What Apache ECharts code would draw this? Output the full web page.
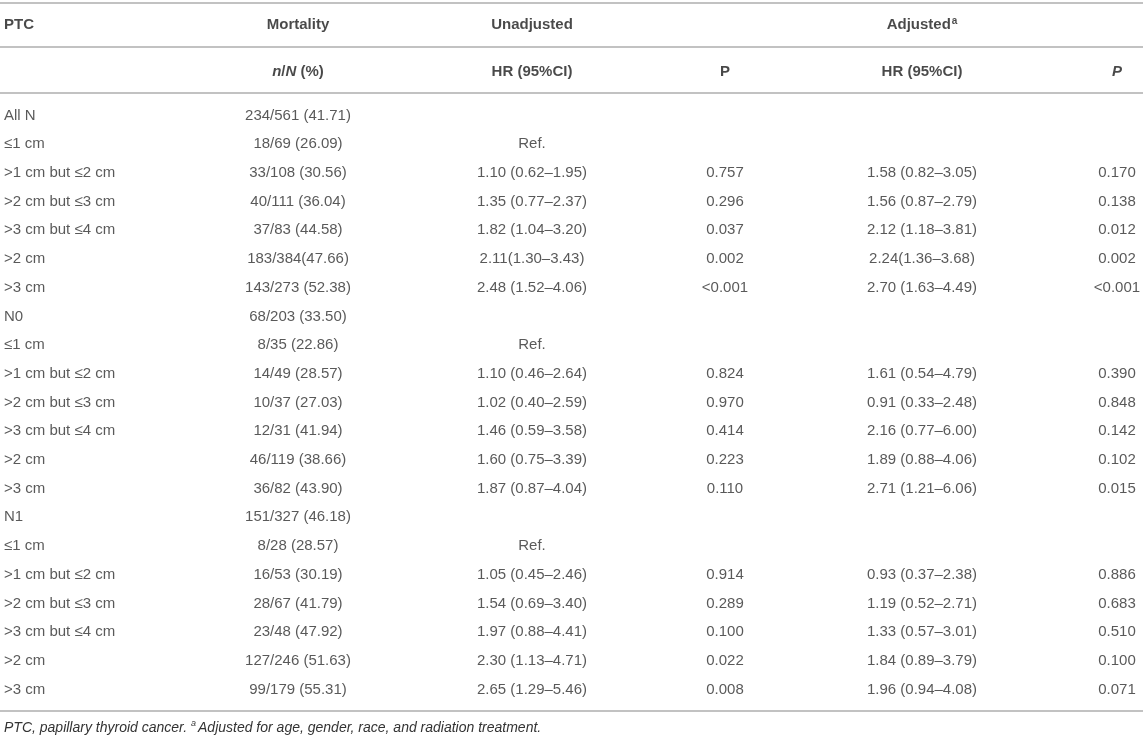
<!DOCTYPE html>
<html lang="en">
<head>
  <meta charset="UTF-8">
  <title>PTC mortality table</title>
  <script src="https://cdn.jsdelivr.net/npm/echarts@6/dist/echarts.min.js"></script>
  <style>
    html, body { margin: 0; padding: 0; width: 100%; height: 100%; background: #fff; }
    #main { width: 1143px; height: 739px; }
  </style>
</head>
<body>
  <div id="main"></div>
  <script>
    // table content
    const rowLabels = [
      'All N', '≤1 cm', '>1 cm but ≤2 cm', '>2 cm but ≤3 cm', '>3 cm but ≤4 cm', '>2 cm', '>3 cm',
      'N0', '≤1 cm', '>1 cm but ≤2 cm', '>2 cm but ≤3 cm', '>3 cm but ≤4 cm', '>2 cm', '>3 cm',
      'N1', '≤1 cm', '>1 cm but ≤2 cm', '>2 cm but ≤3 cm', '>3 cm but ≤4 cm', '>2 cm', '>3 cm'
    ]
    const mortality = [
      '234/561 (41.71)', '18/69 (26.09)', '33/108 (30.56)', '40/111 (36.04)', '37/83 (44.58)', '183/384(47.66)', '143/273 (52.38)',
      '68/203 (33.50)', '8/35 (22.86)', '14/49 (28.57)', '10/37 (27.03)', '12/31 (41.94)', '46/119 (38.66)', '36/82 (43.90)',
      '151/327 (46.18)', '8/28 (28.57)', '16/53 (30.19)', '28/67 (41.79)', '23/48 (47.92)', '127/246 (51.63)', '99/179 (55.31)'
    ]
    const unadjHR = [
      '', 'Ref.', '1.10 (0.62–1.95)', '1.35 (0.77–2.37)', '1.82 (1.04–3.20)', '2.11(1.30–3.43)', '2.48 (1.52–4.06)',
      '', 'Ref.', '1.10 (0.46–2.64)', '1.02 (0.40–2.59)', '1.46 (0.59–3.58)', '1.60 (0.75–3.39)', '1.87 (0.87–4.04)',
      '', 'Ref.', '1.05 (0.45–2.46)', '1.54 (0.69–3.40)', '1.97 (0.88–4.41)', '2.30 (1.13–4.71)', '2.65 (1.29–5.46)'
    ]
    const unadjP = [
      '', '', '0.757', '0.296', '0.037', '0.002', '<0.001',
      '', '', '0.824', '0.970', '0.414', '0.223', '0.110',
      '', '', '0.914', '0.289', '0.100', '0.022', '0.008'
    ]
    const adjHR = [
      '', '', '1.58 (0.82–3.05)', '1.56 (0.87–2.79)', '2.12 (1.18–3.81)', '2.24(1.36–3.68)', '2.70 (1.63–4.49)',
      '', '', '1.61 (0.54–4.79)', '0.91 (0.33–2.48)', '2.16 (0.77–6.00)', '1.89 (0.88–4.06)', '2.71 (1.21–6.06)',
      '', '', '0.93 (0.37–2.38)', '1.19 (0.52–2.71)', '1.33 (0.57–3.01)', '1.84 (0.89–3.79)', '1.96 (0.94–4.08)'
    ]
    const adjP = [
      '', '', '0.170', '0.138', '0.012', '0.002', '<0.001',
      '', '', '0.390', '0.848', '0.142', '0.102', '0.015',
      '', '', '0.886', '0.683', '0.510', '0.100', '0.071'
    ]
    const headerTop = ['{b|PTC}', '{b|Mortality}', '{b|Unadjusted}', '', '{b|Adjusted}{sup|a}', '']
    const headerSub = ['', '{bi|n}{b|/}{bi|N}{b| (%)}', '{b|HR (95%CI)}', '{b|P}', '{b|HR (95%CI)}', '{bi|P}']
    const footnote = '{i|PTC, papillary thyroid cancer. }{isup|a}{i|Adjusted for age, gender, race, and radiation treatment.}'

    // layout: x position of each column (px on a 0..1143 value axis) and alignment
    const colX = [4, 298, 532, 725, 922, 1117]
    const colAlign = ['left', 'center', 'center', 'center', 'center', 'center']
    const bodyCols = [rowLabels, mortality, unadjHR, unadjP, adjHR, adjP]

    const FONT = '"Liberation Sans", Arial, Helvetica, sans-serif'
    const W = 1143
    const ROW_H = 28.7
    const BODY_TOP = 115.5 - ROW_H / 2

    const rich = {
      b: { fontFamily: FONT, fontSize: 15, fontWeight: 'bold', color: '#1b1b1b', lineHeight: 20 },
      bi: { fontFamily: FONT, fontSize: 15, fontWeight: 'bold', fontStyle: 'italic', color: '#1b1b1b', lineHeight: 20 },
      sup: { fontFamily: FONT, fontSize: 10, fontWeight: 'bold', color: '#1b1b1b', lineHeight: 20, verticalAlign: 'top', padding: [1, 0, 0, 1] }
    }

    function textSeries (gridIdx, col, texts, align, isHeader) {
      return {
        type: 'scatter',
        xAxisIndex: gridIdx,
        yAxisIndex: gridIdx,
        symbolSize: 0,
        silent: true,
        data: texts.map((t, i) => ({ name: t, value: [colX[col], i] })).filter(d => d.name !== ''),
        label: {
          show: true,
          position: 'inside',
          align: align,
          verticalAlign: 'middle',
          formatter: '{b}',
          fontFamily: FONT,
          fontSize: 15,
          color: '#303030',
          rich: isHeader ? rich : undefined
        }
      }
    }

    const series = []
    bodyCols.forEach((texts, c) => series.push(textSeries(0, c, texts, colAlign[c], false)))
    colX.forEach((x, c) => {
      series.push(textSeries(1, c, [headerTop[c], headerSub[c]], colAlign[c], true))
    })

    const hLine = (y) => ({
      type: 'line',
      shape: { x1: 0, y1: y, x2: W, y2: y },
      style: { stroke: '#c2c2c2', lineWidth: 2 },
      silent: true
    })

    const chart = echarts.init(document.getElementById('main'))
    chart.setOption({
      backgroundColor: '#fff',
      animation: false,
      grid: [
        { left: 0, right: 0, top: BODY_TOP, height: ROW_H * rowLabels.length },
        { left: 0, right: 0, top: 2, height: 93 }
      ],
      xAxis: [
        { type: 'value', gridIndex: 0, min: 0, max: W, show: false },
        { type: 'value', gridIndex: 1, min: 0, max: W, show: false }
      ],
      yAxis: [
        { type: 'category', gridIndex: 0, inverse: true, data: rowLabels.map((_, i) => 'r' + i), show: false },
        { type: 'category', gridIndex: 1, inverse: true, data: ['h0', 'h1'], show: false }
      ],
      graphic: [
        hLine(3), hLine(47), hLine(93), hLine(711),
        {
          type: 'text',
          left: 4,
          top: 719,
          silent: true,
          style: {
            text: footnote,
            rich: {
              i: { fontFamily: FONT, fontSize: 14, fontStyle: 'italic', fill: '#333', lineHeight: 18 },
              isup: { fontFamily: FONT, fontSize: 9, fontStyle: 'italic', fill: '#333', lineHeight: 18, verticalAlign: 'top', padding: [0, 2, 0, 0] }
            }
          }
        }
      ],
      series: series
    })

    window.addEventListener('resize', () => chart.resize())
  </script>
</body>
</html>
